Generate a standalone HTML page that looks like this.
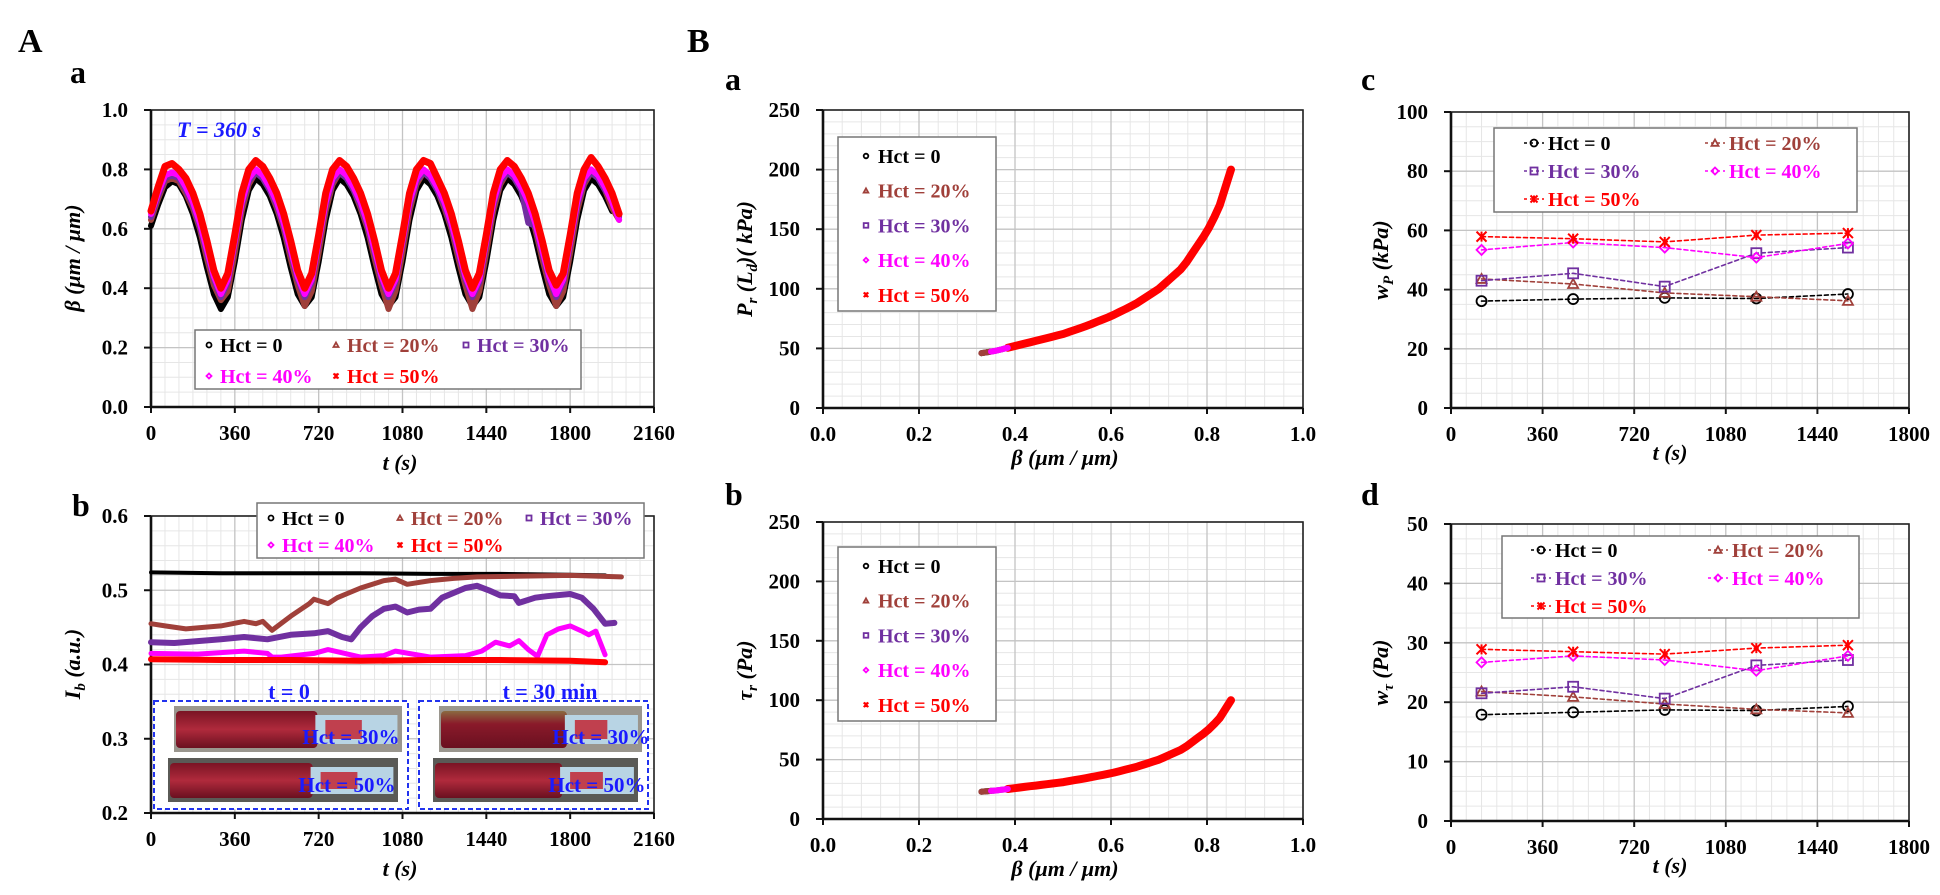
<!DOCTYPE html>
<html><head><meta charset="utf-8"><title>Hct figure</title>
<style>
html,body{margin:0;padding:0;background:#fff;}
svg{display:block;font-family:"Liberation Serif",serif;font-weight:bold;}
</style></head>
<body>
<svg id="fig" width="1940" height="895" viewBox="0 0 1940 895" xmlns="http://www.w3.org/2000/svg">
<defs>
<linearGradient id="syr" x1="0" y1="0" x2="0" y2="1"><stop offset="0" stop-color="#7a1424"/><stop offset="0.5" stop-color="#b02a3c"/><stop offset="1" stop-color="#6a1020"/></linearGradient>
<linearGradient id="syr2" x1="0" y1="0" x2="0" y2="1"><stop offset="0" stop-color="#8a6a40"/><stop offset="0.35" stop-color="#8a1a2a"/><stop offset="1" stop-color="#6a1020"/></linearGradient>
</defs>
<g id="layer"></g>
</svg>
<script>
// ---------- Panel A-a data: beta vs t ----------
const tA = [0,30,60,90,120,150,180,210,240,270,300,330,360,390,420,450,480,510,540,570,600,630,660,690,720,750,780,810,840,870,900,930,960,990,1020,1050,1080,1110,1140,1170,1200,1230,1260,1290,1320,1350,1380,1410,1440,1470,1500,1530,1560,1590,1620,1650,1680,1710,1740,1770,1800,1830,1860,1890,1920,1950,1980,2010];
const betaH50 = [.66,.74,.81,.82,.80,.77,.72,.65,.56,.46,.40,.45,.58,.72,.80,.83,.81,.77,.72,.65,.56,.46,.40,.45,.58,.72,.80,.83,.81,.77,.72,.65,.56,.46,.40,.45,.58,.72,.80,.83,.82,.77,.72,.65,.56,.46,.40,.45,.58,.72,.80,.83,.81,.77,.72,.65,.56,.46,.41,.45,.58,.72,.80,.84,.81,.77,.72,.65];
const betaH40 = [.65,.72,.78,.79,.78,.74,.69,.62,.53,.44,.38,.43,.56,.69,.77,.80,.78,.74,.69,.62,.53,.44,.38,.43,.56,.69,.77,.80,.78,.74,.69,.62,.53,.44,.38,.43,.56,.69,.77,.80,.78,.74,.69,.62,.53,.44,.38,.43,.56,.69,.77,.80,.78,.74,.69,.62,.53,.44,.38,.43,.56,.69,.77,.80,.78,.74,.69,.63];
const betaH30 = [.64,.71,.77,.78,.77,.73,.68,.61,.52,.43,.37,.42,.55,.68,.76,.79,.77,.73,.68,.61,.52,.43,.37,.42,.55,.68,.76,.79,.77,.73,.68,.61,.52,.43,.37,.42,.55,.68,.76,.79,.77,.73,.68,.61,.52,.43,.37,.42,.55,.68,.76,.79,.77,.73,.62,.61,.52,.43,.37,.42,.55,.68,.76,.79,.77,.73,.70,.64];
const betaH20 = [.63,.70,.76,.77,.76,.72,.67,.60,.50,.41,.36,.39,.52,.66,.75,.79,.77,.73,.67,.60,.50,.41,.34,.39,.52,.66,.75,.79,.77,.73,.67,.60,.50,.41,.33,.39,.52,.66,.75,.79,.77,.73,.67,.60,.50,.41,.33,.39,.52,.66,.75,.79,.77,.73,.67,.60,.50,.41,.34,.39,.52,.66,.75,.79,.77,.73,.67,.63];
const betaH0 = [.61,.68,.74,.76,.75,.71,.65,.57,.47,.38,.33,.37,.49,.63,.73,.77,.75,.71,.65,.57,.47,.38,.34,.37,.49,.63,.73,.77,.75,.71,.65,.57,.47,.38,.34,.37,.49,.63,.73,.77,.75,.71,.65,.57,.47,.38,.34,.37,.49,.63,.73,.77,.75,.71,.65,.57,.47,.38,.34,.37,.49,.63,.73,.77,.75,.71,.66];
const aaXTicks = [0,360,720,1080,1440,1800,2160];
const aaYTicks = [0.0,0.2,0.4,0.6,0.8,1.0];

// ---------- Panel A-b data: I_b vs t ----------
const ibT0 = [0,300,600,900,1200,1500,1800,1950];
const ibV0 = [.524,.523,.523,.523,.522,.522,.521,.520];
const ibT20 = [0,60,150,300,400,450,480,520,600,680,700,760,800,900,1000,1050,1100,1200,1300,1400,1600,1800,2020];
const ibV20 = [.455,.452,.448,.452,.458,.455,.458,.446,.465,.482,.488,.482,.490,.503,.513,.515,.508,.513,.516,.518,.519,.520,.518];
const ibT30 = [0,100,300,400,500,600,700,760,820,860,900,950,1000,1050,1100,1150,1200,1250,1350,1400,1450,1500,1560,1580,1650,1700,1800,1850,1900,1950,1990];
const ibV30 = [.430,.429,.434,.437,.434,.440,.442,.445,.437,.434,.450,.465,.475,.478,.470,.474,.475,.490,.503,.506,.500,.493,.492,.483,.490,.492,.495,.490,.475,.455,.456];
const ibT40 = [0,200,400,500,520,560,700,760,900,1000,1050,1200,1350,1420,1480,1540,1580,1620,1660,1700,1750,1800,1850,1880,1910,1950];
const ibV40 = [.415,.414,.418,.415,.410,.410,.415,.420,.410,.412,.418,.410,.412,.418,.430,.425,.432,.420,.411,.440,.448,.452,.445,.440,.445,.413];
const ibT50 = [0,300,600,900,1200,1500,1800,1950];
const ibV50 = [.407,.406,.406,.405,.406,.406,.405,.403];
const abYTicks = [0.2,0.3,0.4,0.5,0.6];

// ---------- Panel B-a / B-b data ----------
const curveBeta = [.33,.36,.40,.45,.50,.55,.60,.65,.70,.75,.80,.825,.85];
const curveP = [46,48,52,57,62,69,77,87,100,118,148,168,200];
const curveTau = [23,24,26,28.5,31,34.5,38.5,43.5,50,59,74,84,100];
const segBetaStart = [0.33,0.33,0.35,0.35,0.385];
const segBetaEnd = [0.35,0.35,0.385,0.385,0.85];
const bXTicks = [0.0,0.2,0.4,0.6,0.8,1.0];
const bYTicks = [0,50,100,150,200,250];

// ---------- Panel B-c / B-d data ----------
const wT = [120,480,840,1200,1560];
const wpH0 = [36.1,36.8,37.2,37.0,38.5];
const wpH20 = [43.6,41.9,38.9,37.6,36.2];
const wpH30 = [43.0,45.5,41.0,52.3,54.2];
const wpH40 = [53.4,55.9,54.2,50.8,55.6];
const wpH50 = [57.9,57.2,56.1,58.4,59.1];
const wtH0 = [17.9,18.3,18.7,18.6,19.3];
const wtH20 = [21.8,20.9,19.7,18.8,18.2];
const wtH30 = [21.5,22.6,20.6,26.2,27.1];
const wtH40 = [26.7,27.8,27.1,25.3,27.8];
const wtH50 = [28.9,28.5,28.1,29.1,29.6];
const cXTicks = [0,360,720,1080,1440,1800];
const cYTicks = [0,20,40,60,80,100];
const dYTicks = [0,10,20,30,40,50];

const seriesNames = ['Hct = 0','Hct = 20%','Hct = 30%','Hct = 40%','Hct = 50%'];
const COLORS = ['#000000','#a0403a','#7030a0','#ff00ff','#ff0000'];

const NS='http://www.w3.org/2000/svg';
const root=document.getElementById('layer');
function el(tag,attrs,parent){const e=document.createElementNS(NS,tag);for(const k in attrs)e.setAttribute(k,attrs[k]);(parent||root).appendChild(e);return e;}
function txt(s,x,y,size,opts,parent){opts=opts||{};const e=el('text',{x:x,y:y,'font-size':size,fill:opts.fill||'#000','text-anchor':opts.anchor||'start'},parent);if(opts.italic)e.setAttribute('font-style','italic');if(opts.rot)e.setAttribute('transform','rotate(-90 '+x+' '+y+')');e.textContent=s;return e;}
function scale(d0,d1,p0,p1){return v=>p0+(v-d0)/(d1-d0)*(p1-p0);}

function axes(g,c){
  const sx=scale(c.xMin,c.xMax,c.x0,c.x1), sy=scale(c.yMin,c.yMax,c.y0,c.y1);
  const gr=el('g',{},g);
  
  
  for(let v=c.xMin;v<=c.xMax+1e-9;v+=c.xMinor){const X=sx(v);el('line',{x1:X,x2:X,y1:c.y1,y2:c.y0,stroke:'#e6e6e6','stroke-width':1},gr);}
  for(let v=c.yMin;v<=c.yMax+1e-9;v+=c.yMinor){const Y=sy(v);el('line',{x1:c.x0,x2:c.x1,y1:Y,y2:Y,stroke:'#e6e6e6','stroke-width':1},gr);}
  c.xTicks.forEach(v=>{const X=sx(v);el('line',{x1:X,x2:X,y1:c.y1,y2:c.y0,stroke:'#c4c4c4','stroke-width':1.3},gr);});
  c.yTicks.forEach(v=>{const Y=sy(v);el('line',{x1:c.x0,x2:c.x1,y1:Y,y2:Y,stroke:'#c4c4c4','stroke-width':1.3},gr);});
  el('rect',{x:c.x0,y:c.y1,width:c.x1-c.x0,height:c.y0-c.y1,fill:'none',stroke:'#222','stroke-width':1.6},g);
  const ya=el('line',{x1:c.x0,x2:c.x0,y1:c.y1,y2:c.y0,stroke:'#111','stroke-width':2.6},g);
  
  const xa=el('line',{x1:c.x0,x2:c.x1,y1:c.y0,y2:c.y0,stroke:'#111','stroke-width':2.6},g);
  
  c.xTicks.forEach(v=>{const X=sx(v);el('line',{x1:X,x2:X,y1:c.y0,y2:c.y0+6,stroke:'#111','stroke-width':2},g);
    const t=txt(c.xFmt(v),X,c.y0+33,21,{anchor:'middle'},g);});
  c.yTicks.forEach(v=>{const Y=sy(v);el('line',{x1:c.x0-7,x2:c.x0,y1:Y,y2:Y,stroke:'#111','stroke-width':2},g);
    const t=txt(c.yFmt(v),c.x0-23,Y+7,21,{anchor:'end'},g);});
  return {sx,sy};
}
function polyline(g,xs,ys,sx,sy,attrs){let d='';xs.forEach((x,i)=>{d+=(i?'L':'M')+sx(x).toFixed(1)+' '+sy(ys[i]).toFixed(1);});const a=Object.assign({d:d,fill:'none','stroke-linejoin':'round','stroke-linecap':'round'},attrs);return el('path',a,g);}
function marker(g,type,x,y,col,r){
  if(type==0)return el('circle',{cx:x,cy:y,r:r,fill:'none',stroke:col,'stroke-width':1.8},g);
  if(type==1)return el('path',{d:`M${x} ${y-r}L${x+r} ${y+r*0.8}L${x-r} ${y+r*0.8}Z`,fill:'none',stroke:col,'stroke-width':1.8},g);
  if(type==2)return el('rect',{x:x-r,y:y-r,width:2*r,height:2*r,fill:'none',stroke:col,'stroke-width':1.8},g);
  if(type==3)return el('path',{d:`M${x} ${y-r}L${x+r} ${y}L${x} ${y+r}L${x-r} ${y}Z`,fill:'none',stroke:col,'stroke-width':1.8},g);
  return el('path',{d:`M${x-r} ${y-r}L${x+r} ${y+r}M${x+r} ${y-r}L${x-r} ${y+r}M${x} ${y-r}L${x} ${y+r}`,fill:'none',stroke:col,'stroke-width':2},g);
}
function fmt1(v){return v.toFixed(1);}
function fmt0(v){return String(v);}
function panelLabel(s,x,y,size,name){const t=txt(s,x,y,size,{});}

// panel letters
panelLabel('A',18,52,34,'figure-label-A');
panelLabel('B',687,52,34,'figure-label-B');
panelLabel('a',70,83,32,'panel-label-Aa');
panelLabel('b',72,516,32,'panel-label-Ab');
panelLabel('a',725,90,32,'panel-label-Ba');
panelLabel('b',725,505,32,'panel-label-Bb');
panelLabel('c',1361,90,32,'panel-label-Bc');
panelLabel('d',1361,505,32,'panel-label-Bd');

// ---------- A-a ----------
(function(){
  const g=el('g',{});
  const {sx,sy}=axes(g,{x0:151,x1:654,y0:407,y1:110,xMin:0,xMax:2160,yMin:0,yMax:1,xMinor:60,yMinor:0.05,xTicks:aaXTicks,yTicks:aaYTicks,xFmt:fmt0,yFmt:fmt1});
  const sets=[betaH0,betaH20,betaH30,betaH40,betaH50];
  const names=['series-hct-0','series-hct-20','series-hct-30','series-hct-40','series-hct-50'];
  sets.forEach((s,i)=>{const p=polyline(g,tA.slice(0,s.length),s,sx,sy,{stroke:COLORS[i],'stroke-width':i==4?7:6});});
  const ann=txt('T = 360 s',177,137,22,{fill:'#1a1aff',italic:true},g);
  const lg=el('g',{},g);
  el('rect',{x:195,y:330,width:386,height:59,fill:'#fff',stroke:'#777','stroke-width':1.5},lg);
  const pos=[[209,345],[336,345],[466,345],[209,376],[336,376]];
  pos.forEach((p,i)=>{const m=marker(lg,i,p[0],p[1],COLORS[i],2.5);
    const t=txt(seriesNames[i],p[0]+11,p[1]+7,20,{fill:COLORS[i]},lg);});
  const xt=txt('t (s)',400,470,22,{italic:true,anchor:'middle'},g);
  const yt=txt('β (μm / μm)',80,258,22,{italic:true,anchor:'middle',rot:true},g);
})();

// ---------- A-b ----------
(function(){
  const g=el('g',{});
  const {sx,sy}=axes(g,{x0:151,x1:654,y0:813,y1:516,xMin:0,xMax:2160,yMin:0.2,yMax:0.6,xMinor:60,yMinor:0.02,xTicks:aaXTicks,yTicks:abYTicks,xFmt:fmt0,yFmt:fmt1});
  const ts=[ibT0,ibT20,ibT30,ibT40,ibT50], vs=[ibV0,ibV20,ibV30,ibV40,ibV50];
  const names=['series-hct-0','series-hct-20','series-hct-30','series-hct-40','series-hct-50'];
  const widths=[4,5,6,5,6];
  ts.forEach((t,i)=>{const p=polyline(g,t,vs[i],sx,sy,{stroke:COLORS[i],'stroke-width':widths[i]});});
  const lg=el('g',{},g);
  el('rect',{x:257,y:503,width:387,height:55,fill:'#fff',stroke:'#777','stroke-width':1.5},lg);
  const pos=[[271,518],[400,518],[529,518],[271,545],[400,545]];
  pos.forEach((p,i)=>{const m=marker(lg,i,p[0],p[1],COLORS[i],2.5);
    const t=txt(seriesNames[i],p[0]+11,p[1]+7,20,{fill:COLORS[i]},lg);});
  // insets
  function inset(bx,bw,label,lx,name,aged){
    const ig=el('g',{},g);
    el('rect',{x:bx,y:701,width:bw,height:108,fill:'#fff',stroke:'#2233ee','stroke-width':2,'stroke-dasharray':'5 3'},ig);
    const lt=txt(label,lx,699,22,{fill:'#1a1aff',italic:false,anchor:'middle'},ig);
    [[706,752],[758,802]].forEach((r,k)=>{
      const x0=bx+(k?14:20), x1=bx+bw-(k?10:6);
      const ph=el('g',{},ig);
      el('rect',{x:x0,y:r[0],width:x1-x0,height:r[1]-r[0],fill:k?'#5a5a56':'#9a968e'},ph);
      const bodyW=(x1-x0)*0.62;
      el('rect',{x:x0+2,y:r[0]+5,width:bodyW,height:r[1]-r[0]-9,rx:4,fill:aged&&!k?'url(#syr2)':'url(#syr)'},ph);
      el('rect',{x:x0+bodyW,y:r[0]+9,width:(x1-x0)*0.36,height:r[1]-r[0]-17,fill:'#b8d4e4'},ph);
      el('rect',{x:x0+bodyW+10,y:r[0]+14,width:(x1-x0)*0.16,height:r[1]-r[0]-27,fill:'#c0404e'},ph);
      const ht=txt(k?'Hct = 50%':'Hct = 30%',bx+bw*0.6-(k?8:4),r[1]-(k?10:8),21,{fill:'#1a1aff'},ph);
    });
  }
  inset(154,254,'t = 0',289,'inset-t0',false);
  inset(419,229,'t = 30 min',550,'inset-t30',true);
  const xt=txt('t (s)',400,876,22,{italic:true,anchor:'middle'},g);
  const yt=el('text',{x:80,y:664,'font-size':22,'font-style':'italic','text-anchor':'middle',transform:'rotate(-90 80 664)'},g);
  
  yt.innerHTML='I<tspan font-size="15" dy="5">b</tspan><tspan dy="-5"> (a.u.)</tspan>';
})();

// ---------- B-a / B-b ----------
function betaCurve(y0,y1,yVals,name,title,titleHtml,legTop){
  const g=el('g',{});
  const {sx,sy}=axes(g,{x0:823,x1:1303,y0:y0,y1:y1,xMin:0,xMax:1,yMin:0,yMax:250,xMinor:0.04,yMinor:10,xTicks:bXTicks,yTicks:bYTicks,xFmt:fmt1,yFmt:fmt0});
  function interp(b){for(let i=0;i<curveBeta.length-1;i++){if(b<=curveBeta[i+1]){const f=(b-curveBeta[i])/(curveBeta[i+1]-curveBeta[i]);return yVals[i]+f*(yVals[i+1]-yVals[i]);}}return yVals[yVals.length-1];}
  const names=['series-hct-0','series-hct-20','series-hct-30','series-hct-40','series-hct-50'];
  [4,0,2,1,3].forEach(i=>{
    const bs=[],ys=[];const a=segBetaStart[i],b=segBetaEnd[i];
    for(let k=0;k<=40;k++){const bb=a+(b-a)*k/40;bs.push(bb);ys.push(interp(bb));}
    const p=polyline(g,bs,ys,sx,sy,{stroke:COLORS[i],'stroke-width':i==4?8:6});
  });
  const lg=el('g',{},g);
  el('rect',{x:838,y:legTop,width:158,height:174,fill:'#fff',stroke:'#777','stroke-width':1.5},lg);
  for(let i=0;i<5;i++){const yy=legTop+19+i*34.7;const m=marker(lg,i,866,yy,COLORS[i],2.3);
    const t=txt(seriesNames[i],878,yy+7,20,{fill:COLORS[i]},lg);}
  const xt=txt('β (μm / μm)',1065,y0+57,22,{italic:true,anchor:'middle'},g);
  const cy=(y0+y1)/2;
  const yt=el('text',{x:752,y:cy,'font-size':22,'font-style':'italic','text-anchor':'middle',transform:`rotate(-90 752 ${cy})`},g);
  
  yt.innerHTML=titleHtml;
}
betaCurve(408,110,curveP,'chart-pressure-vs-beta','','P<tspan font-size="15" dy="5">r</tspan><tspan dy="-5"> (L</tspan><tspan font-size="15" dy="5">d</tspan><tspan dy="-5">)( kPa)</tspan>',137);
betaCurve(819,522,curveTau,'chart-stress-vs-beta','','τ<tspan font-size="15" dy="5">r</tspan><tspan dy="-5"> (Pa)</tspan>',547);

// ---------- B-c / B-d ----------
function wChart(y0,y1,yMax,yTicks,yMinor,sets,name,titleHtml,leg){
  const g=el('g',{});
  const {sx,sy}=axes(g,{x0:1451,x1:1909,y0:y0,y1:y1,xMin:0,xMax:1800,yMin:0,yMax:yMax,xMinor:60,yMinor:yMinor,xTicks:cXTicks,yTicks:yTicks,xFmt:fmt0,yFmt:fmt0});
  const names=['series-hct-0','series-hct-20','series-hct-30','series-hct-40','series-hct-50'];
  sets.forEach((s,i)=>{
    const sg=el('g',{},g);
    polyline(sg,wT,s,sx,sy,{stroke:COLORS[i],'stroke-width':1.6,'stroke-dasharray':'4 3'});
    s.forEach((v,k)=>{const m=marker(sg,i,sx(wT[k]),sy(v),COLORS[i],5);});
  });
  const lg=el('g',{},g);
  el('rect',{x:leg.x,y:leg.y,width:leg.w,height:leg.h,fill:'#fff',stroke:'#777','stroke-width':1.5},lg);
  leg.pos.forEach((p,i)=>{
    el('line',{x1:p[0]-10,x2:p[0]+10,y1:p[1],y2:p[1],stroke:COLORS[i],'stroke-width':1.6,'stroke-dasharray':'3 3'},lg);
    const m=marker(lg,i,p[0],p[1],COLORS[i],3.5);
    const t=txt(seriesNames[i],p[0]+14,p[1]+7,20,{fill:COLORS[i]},lg);
  });
  const xt=txt('t (s)',1670,y0+52,22,{italic:true,anchor:'middle'},g);
  const cy=(y0+y1)/2;
  const yt=el('text',{x:1388,y:cy,'font-size':22,'font-style':'italic','text-anchor':'middle',transform:`rotate(-90 1388 ${cy})`},g);
  
  yt.innerHTML=titleHtml;
}
wChart(408,112,100,cYTicks,5,[wpH0,wpH20,wpH30,wpH40,wpH50],'chart-wp-vs-time','w<tspan font-size="15" dy="5">P</tspan><tspan dy="-5"> (kPa)</tspan>',
  {x:1494,y:128,w:363,h:84,pos:[[1534,143],[1715,143],[1534,171],[1715,171],[1534,199]]});
wChart(821,524,50,dYTicks,2.5,[wtH0,wtH20,wtH30,wtH40,wtH50],'chart-wtau-vs-time','w<tspan font-size="15" dy="5">τ</tspan><tspan dy="-5"> (Pa)</tspan>',
  {x:1502,y:536,w:357,h:82,pos:[[1541,550],[1718,550],[1541,578],[1718,578],[1541,606]]});
</script>
</body></html>
